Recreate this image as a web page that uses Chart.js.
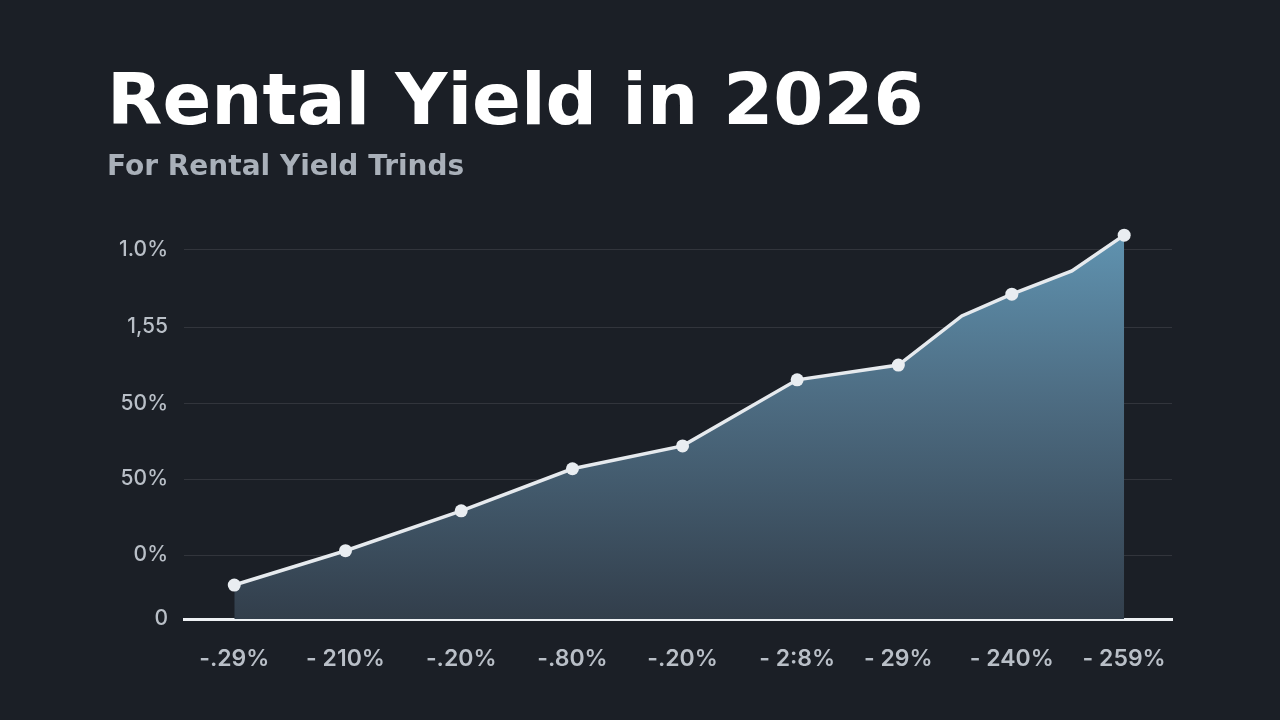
<!DOCTYPE html>
<html>
<head>
<meta charset="utf-8">
<script src="https://cdn.jsdelivr.net/npm/chart.js@4.4.1/dist/chart.umd.min.js"></script>
<style>
  html, body { margin: 0; padding: 0; background: #1b1f26; }
  #wrap { width: 1280px; height: 720px; }
</style>
</head>
<body>
<div id="wrap"><canvas id="yieldChart" width="1280" height="720"></canvas></div>
<script>
// x positions (tick index), points with no marker sit between ticks
const xValues = [0, 1, 2.04, 3.04, 4.03, 5.06, 5.97, 6.54, 6.99, 7.53, 8];
const yieldValues = [9.2, 18.5, 29.3, 40.7, 46.9, 64.8, 68.8, 82.1, 88.0, 94.3, 104.0];
const showMarker = [true, true, true, true, true, true, true, false, true, false, true];

const xTickValues = [0, 1, 2.04, 3.04, 4.03, 5.06, 5.97, 6.99, 8];
const xTickLabels = ['-.29%', '- 210%', '-.20%', '-.80%', '-.20%', '- 2:8%', '- 29%', '- 240%', '- 259%'];

const yTickValues = [0, 17.3, 37.9, 58.3, 79.1, 100];
const yTickLabels = ['0', '0%', '50%', '50%', '1,55', '1.0%'];

const points = xValues.map((x, i) => ({ x: x, y: yieldValues[i] }));

const ctx = document.getElementById('yieldChart').getContext('2d');
new Chart(ctx, {
    type: 'line',
    data: {
        datasets: [{
            data: points,
            borderColor: '#e6eaee',
            borderWidth: 3.5,
            pointRadius: showMarker.map(s => s ? 6.5 : 0),
            pointBackgroundColor: '#e9edf1',
            pointBorderWidth: 0,
            tension: 0,
            fill: 'origin',
            backgroundColor: function(context) {
                const area = context.chart.chartArea;
                if (!area) return 'rgba(80,120,145,0.6)';
                const g = context.chart.ctx.createLinearGradient(0, area.top, 0, area.bottom);
                g.addColorStop(0, '#6196b4');
                g.addColorStop(0.45, '#4d6c82');
                g.addColorStop(1, '#323e4b');
                return g;
            }
        }]
    },
    options: {
        responsive: false,
        animation: false,
        layout: { padding: { left: 107, right: 108, top: 0, bottom: 51 } },
        scales: {
            x: {
                type: 'linear',
                min: -0.452,
                max: 8.43,
                afterBuildTicks: scale => { scale.ticks = xTickValues.map(v => ({ value: v })); },
                afterFit: scale => { scale.height = 50; },
                grid: { display: false },
                border: { display: true, color: '#eef1f4', width: 3 },
                ticks: {
                    padding: 18,
                    color: '#b9bfc7',
                    font: { family: 'Inter', size: 23, weight: '600' },
                    autoSkip: false,
                    maxRotation: 0,
                    callback: (v) => {
                        const i = xTickValues.indexOf(v);
                        return i >= 0 ? xTickLabels[i] : '';
                    }
                }
            },
            y: {
                min: 0,
                max: 108.1,
                afterBuildTicks: scale => { scale.ticks = yTickValues.map(v => ({ value: v })); },
                afterFit: scale => { scale.width = 77; },
                grid: { color: 'rgba(255,255,255,0.10)', lineWidth: 1, drawTicks: false },
                border: { display: false },
                ticks: {
                    padding: 16,
                    color: '#b9bfc7',
                    font: { family: 'Inter', size: 21, weight: '500' },
                    callback: (v) => {
                        const i = yTickValues.indexOf(v);
                        return i >= 0 ? yTickLabels[i] : '';
                    }
                }
            }
        },
        plugins: {
            legend: { display: false },
            tooltip: { enabled: false },
            title: {
                display: true,
                text: 'Rental Yield in 2026',
                align: 'start',
                color: '#ffffff',
                font: { family: 'DejaVu Sans', size: 72, weight: 'bold', lineHeight: 1 },
                padding: { top: 69, bottom: 0 }
            },
            subtitle: {
                display: true,
                text: 'For Rental Yield Trinds',
                align: 'start',
                color: '#a9b0b9',
                font: { family: 'DejaVu Sans', size: 28, weight: 'bold', lineHeight: 1 },
                padding: { top: 13, bottom: 38 }
            }
        }
    }
});
</script>
</body>
</html>
